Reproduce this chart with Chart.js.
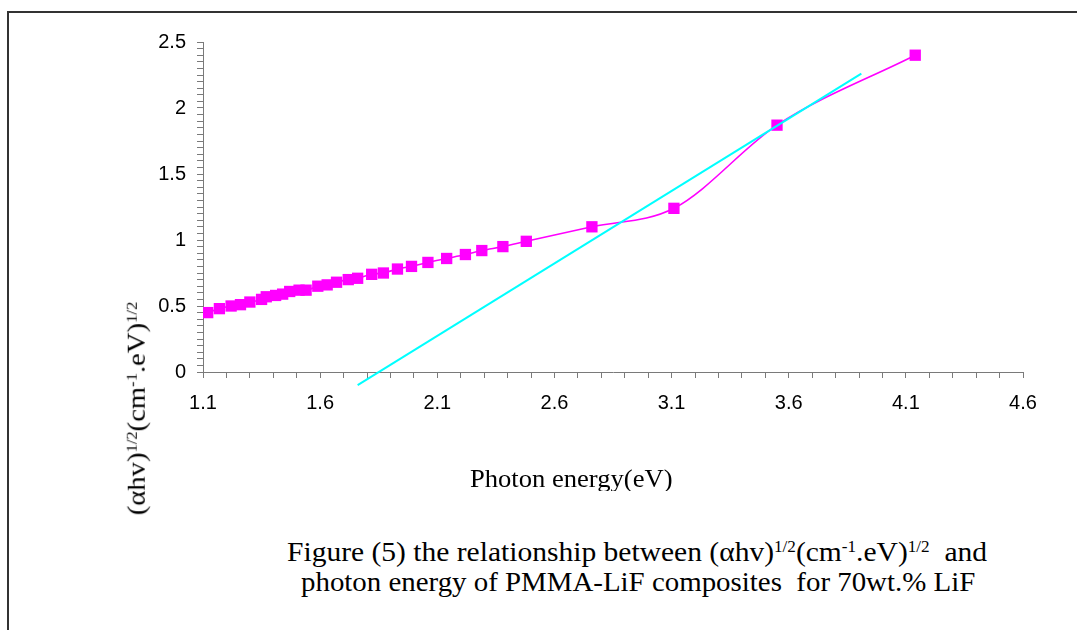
<!DOCTYPE html>
<html>
<head>
<meta charset="utf-8">
<script src="https://cdn.jsdelivr.net/npm/chart.js@4"></script>
<style>
  body { margin: 0; background: #fff; }
  #page { position: relative; width: 1077px; height: 630px; overflow: hidden; background: #fff; }
  #frame { position: absolute; left: 7px; top: 11px; width: 1200px; height: 700px;
    border-left: 2px solid #333; border-top: 2px solid #333; }
  #wrap { position: absolute; left: 0; top: 0; width: 1077px; height: 460px; }
  .serif { position: absolute; font-family: "Liberation Serif", "Times New Roman", serif;
    color: #000; white-space: nowrap; line-height: 1; transform-origin: 0 0; }
  .serif sup { font-size: 0.58em; position: relative; top: -0.55em; vertical-align: baseline; }
  #ytitle { font-size: 25px; left: 0; top: 0; transform-origin: 50% 50%; }
  #xclip { position: absolute; left: 0; top: 466px; width: 1077px; height: 25px; overflow: hidden; }
  #xtitle { font-size: 25px; left: 470px; top: 0; }
  .cap { font-size: 27px; }
</style>
</head>
<body>
<div id="page">
  <div id="frame"></div>
  <div id="wrap"><canvas id="myChart"></canvas></div>
  <div id="ytitle" class="serif" data-w="214">(αhv)<sup>1/2</sup>(cm<sup>-1</sup>.eV)<sup>1/2</sup></div>
  <div id="xclip"><div id="xtitle" class="serif" data-w="202"></div></div>
  <div class="serif cap" style="left:287px; top:539px;" data-w="700">Figure (5) the relationship between (αhv)<sup>1/2</sup>(cm<sup>-1</sup>.eV)<sup>1/2</sup>&nbsp; and</div>
  <div class="serif cap" style="left:301px; top:569px;" data-w="674">photon energy of PMMA-LiF composites&nbsp; for 70wt.% LiF</div>
</div>
<script>
'use strict';

// photon energy (eV) and (ahv)^1/2
const energy = [1.12, 1.17, 1.22, 1.26, 1.30, 1.35, 1.37, 1.41, 1.44, 1.47, 1.51, 1.54,
  1.59, 1.63, 1.67, 1.72, 1.76, 1.82, 1.87, 1.93, 1.99, 2.06, 2.14, 2.22, 2.29, 2.38,
  2.48, 2.76, 3.11, 3.55, 4.14];
const ahv = [0.45, 0.48, 0.50, 0.51, 0.53, 0.55, 0.57, 0.58, 0.59, 0.61, 0.62, 0.62,
  0.65, 0.66, 0.68, 0.70, 0.71, 0.74, 0.75, 0.78, 0.80, 0.83, 0.86, 0.89, 0.92, 0.95,
  0.99, 1.10, 1.24, 1.87, 2.40];

// straight-line fit drawn in cyan
const fitX = [1.76, 3.91];
const fitY = [-0.10, 2.26];

const xTickLabels = ['1.1', '1.6', '2.1', '2.6', '3.1', '3.6', '4.1', '4.6'];
const yTickLabels = ['0', '0.5', '1', '1.5', '2', '2.5'];

const xTitle = 'Photon energy(eV)';
document.getElementById('xtitle').textContent = xTitle;

function pts(xs, ys) {
  return xs.map((x, i) => ({ x: x, y: ys[i] }));
}

const axisColor = '#7a7a7a';
const tickFont = { family: "'Liberation Sans', Arial, sans-serif", size: 20 };

const ctx = document.getElementById('myChart');
new Chart(ctx, {
  type: 'scatter',
  data: {
    datasets: [
      {
        label: 'fit',
        data: pts(fitX, fitY),
        showLine: true,
        borderColor: '#00ffff',
        borderWidth: 2,
        pointRadius: 0,
        clip: false,
      },
      {
        label: 'data',
        data: pts(energy, ahv),
        showLine: true,
        borderColor: '#ff00ff',
        borderWidth: 1.6,
        backgroundColor: '#ff00ff',
        pointStyle: 'rect',
        pointRadius: 8,
        pointBorderWidth: 0,
        cubicInterpolationMode: 'monotone',
      },
    ],
  },
  options: {
    responsive: true,
    maintainAspectRatio: false,
    animation: false,
    layout: { padding: { left: 143, right: 54, top: 42, bottom: 0 } },
    plugins: {
      legend: { display: false },
      tooltip: { enabled: false },
    },
    scales: {
      x: {
        type: 'linear',
        min: 1.1,
        max: 4.6,
        afterFit: (s) => { s.height = 88; },
        border: { color: axisColor, width: 1 },
        grid: { drawOnChartArea: false, drawTicks: true, tickLength: 6, color: axisColor },
        ticks: {
          stepSize: 0.1,
          autoSkip: false,
          maxRotation: 0,
          padding: 13,
          color: '#000',
          font: tickFont,
          callback: (v) => {
            const lbl = (Math.round(v * 10) / 10).toFixed(1);
            return xTickLabels.includes(lbl) ? lbl : '';
          },
        },
      },
      y: {
        min: 0,
        max: 2.5,
        afterFit: (s) => { s.width = 60; },
        border: { color: axisColor, width: 1 },
        grid: { drawOnChartArea: false, drawTicks: true, tickLength: 6, color: axisColor },
        ticks: {
          stepSize: 0.05,
          autoSkip: false,
          padding: 11,
          color: '#000',
          font: tickFont,
          callback: (v) => {
            const lbl = String(Math.round(v * 100) / 100);
            return yTickLabels.includes(lbl) ? lbl : '';
          },
        },
      },
    },
  },
});

// squeeze the serif texts to the widths they have in the figure
document.querySelectorAll('[data-w]').forEach((el) => {
  const k = Number(el.dataset.w) / el.offsetWidth;
  if (el.id === 'ytitle') {
    const w = el.offsetWidth, h = el.offsetHeight;
    el.style.left = (136 - w / 2) + 'px';
    el.style.top = (408 - h / 2) + 'px';
    el.style.transform = 'rotate(-90deg) scaleX(' + k + ')';
  } else {
    el.style.transform = 'scaleX(' + k + ')';
  }
});
</script>
</body>
</html>
